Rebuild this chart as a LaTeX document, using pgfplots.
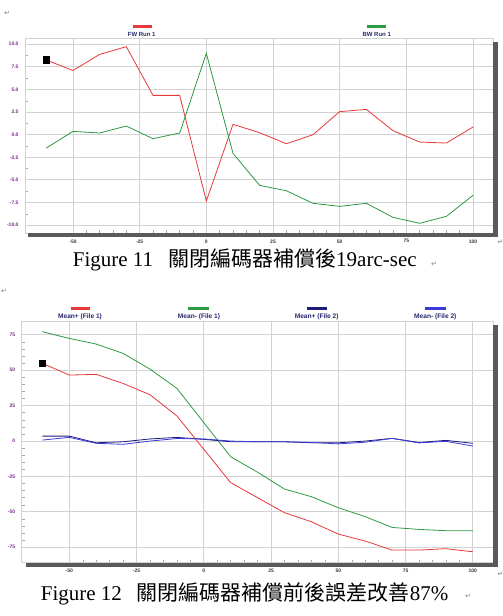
\documentclass[border=0pt]{standalone}
\usepackage{pgfplots}
\pgfplotsset{compat=1.18}
\usepackage{fontspec}
\setmainfont{Liberation Serif}
\newfontfamily\cjk{Noto Sans CJK TC}
\newfontfamily\arial{Liberation Sans}
\newfontfamily\dejavu{DejaVu Sans}
\definecolor{cred}{HTML}{E8383C}
\definecolor{cgreen}{HTML}{2E9A44}
\definecolor{cnavy}{HTML}{1C1C7C}
\definecolor{cblue}{HTML}{3A3AD8}
\definecolor{cpurple}{HTML}{7E2C8E}
\definecolor{cgrid}{HTML}{D2D2D2}
\definecolor{cshadow}{HTML}{5A5A5A}
\definecolor{ctext}{HTML}{2A2A6E}
\definecolor{cxlab}{HTML}{3A3A3A}
\pgfplotsset{
  myax/.style={
    scale only axis,
    axis background/.style={fill=white},
    axis line style={cgrid, line width=0.8pt},
    grid=major,
    major grid style={cgrid, line width=1pt},
    tick pos=left,
    tick align=inside,
    major tick length=0pt,
    minor tick length=3pt,
    minor tick style={gray!70, line width=0.5pt},
    ticklabel style={font=\arial\bfseries\fontsize{5}{5}\selectfont},
    x tick label style={text=cxlab, yshift=-3pt},
    y tick label style={text=cpurple, xshift=-3pt},
    /pgf/number format/assume math mode=true,
    xtick={-50,-25,0,25,50,75,100},
    minor x tick num=4,
    every axis plot/.append style={line width=0.8pt},
  }
}
\begin{document}
\begin{tikzpicture}
\useasboundingbox[fill=white] (0pt,0pt) rectangle (503pt,616pt);
% paragraph marks
\node[text=gray, font=\dejavu\fontsize{7}{7}\selectfont] at (7pt,603pt) {↵};
\node[text=gray, font=\dejavu\fontsize{7}{7}\selectfont] at (4pt,325pt) {↵};
\node[text=gray, font=\dejavu\fontsize{7}{7}\selectfont] at (500.5pt,374pt) {↵};
\node[text=gray, font=\dejavu\fontsize{7}{7}\selectfont] at (500.5pt,42pt) {↵};
% ---------------- Chart 1 ----------------
\begin{axis}[myax,
  at={(25pt,383pt)}, anchor=south west,
  width=468pt, height=195pt,
  xmin=-68, xmax=107.5, ymin=-10.86, ymax=10.69,
  ytick={-10,-7.5,-5,-2.5,0,2.5,5,7.5,10},
  minor y tick num=1,
  yticklabel style={/pgf/number format/.cd, fixed, fixed zerofill, precision=1},
]
\addplot[cred, no marks] coordinates {
(-60,8.25)(-50,7.1)(-40,8.88)(-30,9.73)(-20,4.35)(-10,4.35)(0,-7.33)(10,1.15)(20,0.22)(30,-0.99)(40,0.0)(50,2.55)(60,2.8)(70,0.45)(80,-0.81)(90,-0.92)(100,0.85)};
\addplot[cgreen, no marks] coordinates {
(-60,-1.47)(-50,0.37)(-40,0.19)(-30,0.96)(-20,-0.44)(-10,0.19)(0,9.0)(10,-2.06)(20,-5.6)(30,-6.19)(40,-7.58)(50,-7.92)(60,-7.58)(70,-9.13)(80,-9.79)(90,-9.02)(100,-6.7)};
\addplot[only marks, mark=square*, mark size=3.3pt, black] coordinates {(-60,8.25)};
\end{axis}
\fill[cshadow] (28pt,379pt) rectangle (497.5pt,382.6pt);
\fill[cshadow] (493.4pt,379pt) rectangle (497.5pt,574pt);
\draw[cred, line width=3pt] (133pt,589pt) -- (151.7pt,589pt);
\node[text=ctext, font=\arial\bfseries\fontsize{6}{6}\selectfont] at (141.7pt,581.7pt) {FW Run 1};
\draw[cgreen, line width=3pt] (367pt,589pt) -- (386pt,589pt);
\node[text=ctext, font=\arial\bfseries\fontsize{6}{6}\selectfont] at (376.7pt,581.7pt) {BW Run 1};
\node[anchor=base west, font=\fontsize{21}{21}\selectfont, inner sep=0pt] at (72.7pt,349.3pt)
  {Figure 11\hspace{15pt}{\cjk 關閉編碼器補償後}19arc-sec};
\node[text=gray, font=\dejavu\fontsize{7}{7}\selectfont] at (434pt,352pt) {↵};
% ---------------- Chart 2 ----------------
\begin{axis}[myax,
  at={(21.7pt,53.3pt)}, anchor=south west,
  width=471.3pt, height=241pt,
  xmin=-67.7, xmax=107.5, ymin=-85.9, ymax=84.3,
  ytick={-75,-50,-25,0,25,50,75},
  minor y tick num=4,
]
\addplot[cred, no marks] coordinates {
(-60,54.9)(-50,46.6)(-40,47.1)(-30,40.7)(-20,32.7)(-10,17.7)(0,-5.8)(10,-29.4)(20,-40)(30,-50.6)(40,-57)(50,-65.7)(60,-70.6)(70,-77)(80,-77)(90,-76)(100,-78.2)};
\addplot[cgreen, no marks] coordinates {
(-60,77.2)(-50,72.5)(-40,68.5)(-30,61.9)(-20,50.8)(-10,37.2)(0,13)(10,-11.1)(20,-22)(30,-33.9)(40,-39.3)(50,-47.1)(60,-53.4)(70,-61)(80,-62.4)(90,-63.3)(100,-63.3)};
\addplot[cnavy, no marks] coordinates {
(-60,3.5)(-50,3.5)(-40,-1.2)(-30,-0.5)(-20,1.5)(-10,2.6)(0,1.2)(10,-0.5)(20,-0.5)(30,-0.5)(40,-1.2)(50,-1.2)(60,0)(70,1.9)(80,-1)(90,0.5)(100,-1.6)};
\addplot[cblue, no marks] coordinates {
(-60,0.7)(-50,2.6)(-40,-1.6)(-30,-2.3)(-20,0)(-10,1.8)(0,1.5)(10,0)(20,-0.5)(30,-0.5)(40,-1)(50,-2)(60,-0.8)(70,1.9)(80,-1.3)(90,-0.2)(100,-3.5)};
\addplot[only marks, mark=square*, mark size=3.3pt, black] coordinates {(-60,54.9)};
\end{axis}
\fill[cshadow] (26pt,49.3pt) rectangle (497.5pt,52.9pt);
\fill[cshadow] (493.4pt,49.3pt) rectangle (497.5pt,291pt);
\draw[cred, line width=3pt] (70.7pt,307.7pt) -- (90pt,307.7pt);
\node[text=ctext, font=\arial\bfseries\fontsize{6.6}{6.6}\selectfont] at (80pt,299.3pt) {Mean+ (File 1)};
\draw[cgreen, line width=3pt] (188.3pt,307.7pt) -- (209pt,307.7pt);
\node[text=ctext, font=\arial\bfseries\fontsize{6.6}{6.6}\selectfont] at (199pt,299.3pt) {Mean- (File 1)};
\draw[cnavy, line width=3pt] (306.7pt,307.7pt) -- (327pt,307.7pt);
\node[text=ctext, font=\arial\bfseries\fontsize{6.6}{6.6}\selectfont] at (316.7pt,299.3pt) {Mean+ (File 2)};
\draw[cblue, line width=3pt] (425pt,307.7pt) -- (445.7pt,307.7pt);
\node[text=ctext, font=\arial\bfseries\fontsize{6.6}{6.6}\selectfont] at (435.3pt,299.3pt) {Mean- (File 2)};
\node[anchor=base west, font=\fontsize{21}{21}\selectfont, inner sep=0pt] at (40.7pt,15.3pt)
  {Figure 12\hspace{15pt}{\cjk 關閉編碼器補償前後誤差改善}87\%};
\node[text=gray, font=\dejavu\fontsize{7}{7}\selectfont] at (468pt,20pt) {↵};
\end{tikzpicture}
\end{document}
